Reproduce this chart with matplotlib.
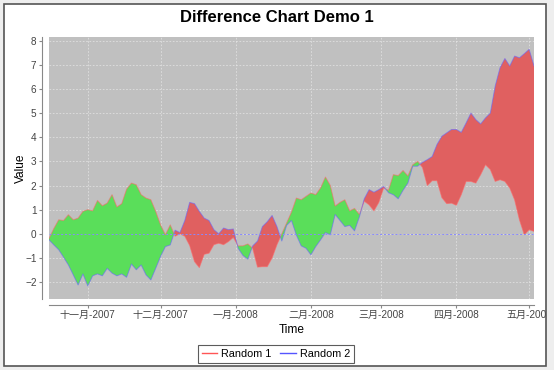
import numpy as np
import matplotlib
matplotlib.use('Agg')
import matplotlib.pyplot as plt
import matplotlib.dates as mdates
from matplotlib.patches import Rectangle
from matplotlib.ticker import FuncFormatter

plt.rcParams['font.family'] = ['Liberation Sans', 'Noto Sans CJK SC', 'DejaVu Sans']

# daily random walks, read every second day
start_day = np.datetime64('2007-10-16')
step_days = 2
month_names = ['一月', '二月', '三月', '四月', '五月', '六月',
               '七月', '八月', '九月', '十月', '十一月', '十二月']

random_1 = [-0.20, 0.22, 0.58, 0.55, 0.79, 0.58, 0.65, 0.93, 1.00, 0.95,
            1.38, 1.16, 1.27, 1.62, 1.11, 1.25, 1.85, 2.10, 2.03, 1.62,
            1.48, 1.41, 0.93, 0.37, -0.04, 0.37, -0.10, 0.00, -0.10, -0.48,
            -1.15, -1.40, -0.85, -0.80, -0.45, -0.39, -0.45, -0.32, -0.15, -0.50,
            -0.50, -0.42, -0.60, -1.38, -1.36, -1.36, -1.00, -0.45, 0.00, 0.45,
            0.90, 1.48, 1.41, 1.55, 1.69, 1.62, 1.90, 2.35, 2.00, 1.15,
            1.30, 1.41, 0.95, 1.05, 0.80, 1.35, 1.20, 0.95, 1.30, 1.90,
            1.80, 2.45, 2.41, 2.62, 2.40, 2.86, 3.00, 2.75, 2.00, 2.20,
            2.20, 1.50, 1.25, 1.27, 1.18, 1.62, 2.17, 2.17, 2.10, 2.45,
            2.86, 2.66, 2.17, 2.24, 2.17, 1.90, 1.41, 0.58, -0.04, 0.17,
            0.10]
random_2 = [-0.25, -0.46, -0.66, -0.97, -1.29, -1.70, -2.12, -1.66, -2.16, -1.74,
            -1.66, -1.74, -1.43, -1.63, -1.74, -1.66, -1.80, -1.25, -1.49, -1.29,
            -1.70, -1.91, -1.43, -0.94, -0.53, -0.46, 0.15, 0.05, 0.55, 1.30,
            1.25, 0.93, 0.65, 0.55, 0.17, 0.00, 0.24, 0.17, 0.20, -0.60,
            -0.90, -1.05, -0.50, -0.30, 0.30, 0.50, 0.76, 0.30, -0.30, 0.35,
            0.55, -0.05, -0.50, -0.60, -0.87, -0.53, -0.25, 0.05, -0.04, 0.80,
            0.55, 0.30, 0.35, 0.12, 0.70, 1.45, 1.83, 1.72, 1.83, 1.96,
            1.70, 1.62, 1.45, 1.80, 2.10, 2.80, 2.80, 2.96, 3.07, 3.20,
            3.70, 4.04, 4.18, 4.32, 4.32, 4.20, 4.59, 5.00, 4.73, 4.55,
            4.80, 5.00, 6.12, 6.88, 7.26, 6.95, 7.36, 7.29, 7.46, 7.64,
            6.95]

r1 = np.array(random_1)
r2 = np.array(random_2)
dates = (start_day + np.arange(len(r1)) * np.timedelta64(step_days, 'D')).astype('datetime64[s]').astype(object)
x = mdates.date2num(dates)

fig = plt.figure(figsize=(5.54, 3.70), dpi=100, facecolor='#EEEEEE')
W, H = 554, 370
fig.patches.append(Rectangle((4 / W, 4 / H), 542 / W, 362 / H, transform=fig.transFigure,
                             facecolor='white', edgecolor='#555555', linewidth=1.2, zorder=-1))

ax = fig.add_axes([49 / W, 1 - 299 / H, 485 / W, 262 / H])
ax.set_zorder(1)
ax.set_facecolor('#C0C0C0')

ax.fill_between(x, r1, r2, where=r1 >= r2, interpolate=True, color='#5ADE5A', lw=0, zorder=2)
ax.fill_between(x, r1, r2, where=r1 < r2, interpolate=True, color='#E06060', lw=0, zorder=2)
ax.plot(x, r1, color='#FF6666', lw=0.7, alpha=0.6, zorder=3, label='Random 1')
ax.plot(x, r2, color='#6666FF', lw=0.7, alpha=0.6, zorder=3, label='Random 2')
ax.axhline(0, color='#8888FF', lw=0.7, ls=(0, (2, 2)), zorder=4)

ax.set_xlim(x[0], x[-1])
ax.set_ylim(-2.7, 8.15)
ax.set_yticks(range(-2, 9))
ax.xaxis.set_major_locator(mdates.MonthLocator())
ax.xaxis.set_major_formatter(FuncFormatter(
    lambda v, pos: '%s-%d' % (month_names[mdates.num2date(v).month - 1], mdates.num2date(v).year)))

ax.grid(True, color='#E8E8E8', lw=0.6, ls=(0, (2, 2)), alpha=0.8, zorder=1)
ax.set_axisbelow(True)
for s in ['top', 'right']:
    ax.spines[s].set_visible(False)
ax.spines['left'].set_position(('outward', 5))
ax.spines['bottom'].set_position(('outward', 4))
for s in ['left', 'bottom']:
    ax.spines[s].set_color('#888888')
ax.tick_params(length=2, color='#888888', labelsize=7.2, labelcolor='#444444', pad=2)

ax.set_xlabel('Time', fontsize=8.6, labelpad=3)
ax.set_ylabel('Value', fontsize=8.6)
ax.yaxis.set_label_coords(-0.045, 0.5)
fig.suptitle('Difference Chart Demo 1', x=0.5, y=1 - 17 / H, va='center',
             fontsize=12, fontweight='bold')

panel = Rectangle((4, 4), 542, 362, transform=None)
for lbl in ax.get_xticklabels():
    lbl.set_clip_on(True)
    lbl.set_clip_path(panel)

leg = fig.legend(loc='center', bbox_to_anchor=(276 / W, 1 - 354 / H), ncol=2,
                 fontsize=7.8, frameon=True, fancybox=False, edgecolor='#333333',
                 handlelength=1.4, handletextpad=0.4, columnspacing=0.8,
                 borderpad=0.4)
leg.get_frame().set_linewidth(0.8)
for h, c in zip(leg.get_lines(), ['#FF5555', '#5555FF']):
    h.set_alpha(1.0)
    h.set_color(c)
    h.set_linewidth(1.0)

fig.savefig('out.png', dpi=100, facecolor=fig.get_facecolor())
